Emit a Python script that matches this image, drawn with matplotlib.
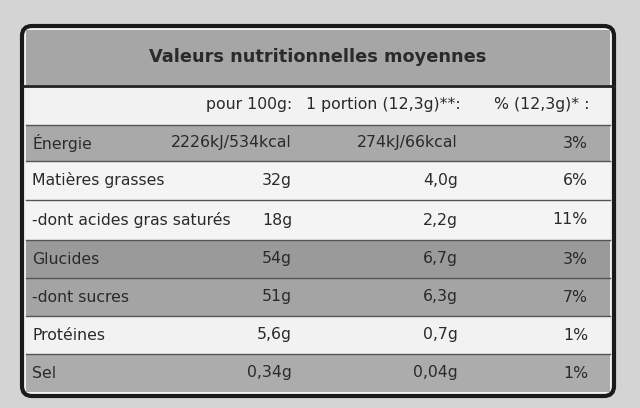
import matplotlib
matplotlib.use("Agg")
import matplotlib.pyplot as plt
from matplotlib.patches import Rectangle, FancyBboxPatch

title = "Valeurs nutritionnelles moyennes"
headers = ["pour 100g:", "1 portion (12,3g)**:", "% (12,3g)* :"]
labels = ["Énergie", "Matières grasses", "-dont acides gras saturés", "Glucides",
          "-dont sucres", "Protéines", "Sel"]
per100 = ["2226kJ/534kcal", "32g", "18g", "54g", "51g", "5,6g", "0,34g"]
portion = ["274kJ/66kcal", "4,0g", "2,2g", "6,7g", "6,3g", "0,7g", "0,04g"]
pct = ["3%", "6%", "11%", "3%", "7%", "1%", "1%"]
shade = ["#a9a9a9", "#f4f4f4", "#f4f4f4", "#9a9a9a", "#a4a4a4", "#f2f2f2", "#acacac"]
row_edges = [125, 161, 200, 240, 278, 316, 354, 392]

fig = plt.figure(figsize=(6.4, 4.08), dpi=100)
fig.patch.set_facecolor("#d4d4d4")
ax = fig.add_axes([0, 0, 1, 1])
ax.set_xlim(0, 640); ax.set_ylim(408, 0); ax.axis("off")

L, R = 22, 614
ax.add_patch(FancyBboxPatch((L, 26), R - L, 370, boxstyle="round,pad=0,rounding_size=10",
                            fc="#f2f2f2", ec="#1a1a1a", lw=3, zorder=1))
ax.add_patch(Rectangle((L + 4, 30), R - L - 8, 55, fc="#a6a6a6", ec="none", zorder=2))
ax.plot([L, R], [86, 86], color="#222", lw=2, zorder=3)
ax.text(318, 57, title, ha="center", va="center", fontsize=12.8, fontweight="bold",
        color="#2a2a2a", zorder=4)
fs = 11.3
col = "#2a2a2a"
ax.text(292, 104, headers[0], ha="right", va="center", fontsize=fs, color=col)
ax.text(306, 104, headers[1], ha="left", va="center", fontsize=fs, color=col)
ax.text(590, 104, headers[2], ha="right", va="center", fontsize=fs, color=col)
for i, lab in enumerate(labels):
    y0, y1 = row_edges[i], row_edges[i + 1]
    ax.add_patch(Rectangle((L + 4, y0), R - L - 8, y1 - y0, fc=shade[i], ec="none", zorder=2))
    ax.plot([L + 4, R - 4], [y0, y0], color="#555", lw=1, zorder=3)
    yc = (y0 + y1) / 2
    ax.text(32, yc, lab, ha="left", va="center", fontsize=fs, color=col, zorder=4)
    ax.text(292, yc, per100[i], ha="right", va="center", fontsize=fs, color=col, zorder=4)
    ax.text(458, yc, portion[i], ha="right", va="center", fontsize=fs, color=col, zorder=4)
    ax.text(588, yc, pct[i], ha="right", va="center", fontsize=fs, color=col, zorder=4)
fig.savefig("out.png", dpi=100, facecolor=fig.get_facecolor())
